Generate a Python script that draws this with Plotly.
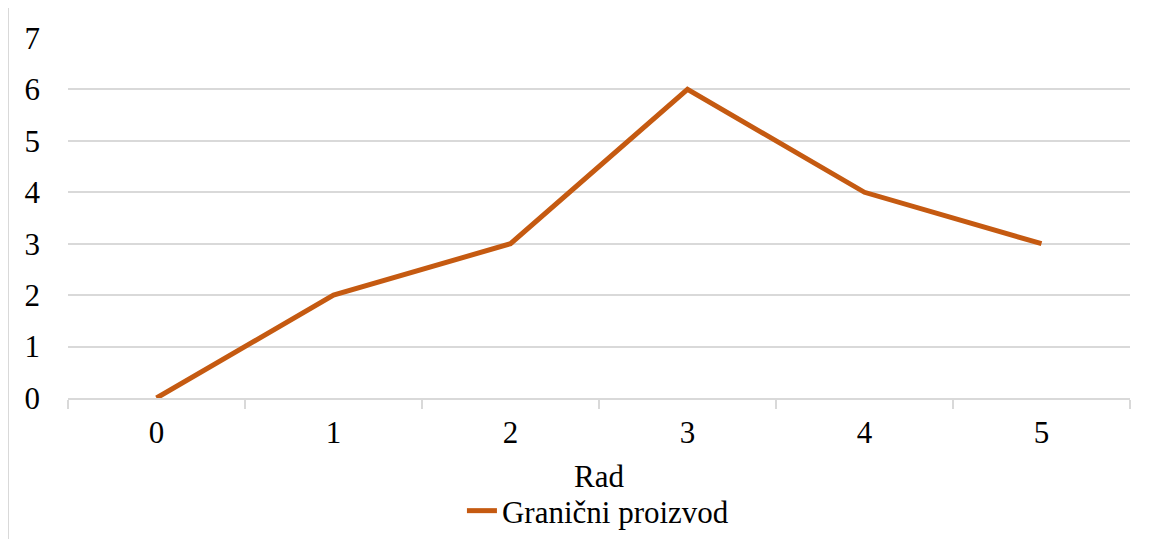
import plotly.graph_objects as go

categories = ["0", "1", "2", "3", "4", "5"]
values = [0, 2, 3, 6, 4, 3]
series_name = "Granični proizvod"
x_title = "Rad"

# page body has an 8px default margin, so the figure is offset by 8px
OFF = 8
W, H = 1152 - OFF, 539 - OFF
L, R, T, B = 68 - OFF, 22, 38 - OFF, 539 - 398
pw = W - L - R
ph = H - T - B

fig = go.Figure()
fig.add_trace(go.Scatter(
    x=categories, y=values, mode="lines", name=series_name,
    line=dict(color="#C55A11", width=5),
))

font = dict(family="Liberation Serif", size=31, color="#000000")

fig.update_layout(
    width=W, height=H,
    margin=dict(l=L, r=R, t=T, b=B, pad=0, autoexpand=False),
    paper_bgcolor="white", plot_bgcolor="white",
    font=font,
    showlegend=True,
    legend=dict(orientation="h", x=0.499, xanchor="center", y=(398 - 538) / ph, yanchor="bottom",
                font=font, bgcolor="rgba(0,0,0,0)", borderwidth=0),
    xaxis=dict(
        type="category", range=[-0.5, 5.5], showgrid=False, showline=True,
        linecolor="#d9d9d9", linewidth=2,
        ticks="outside", tickson="boundaries", ticklen=9, tickcolor="#d9d9d9", tickwidth=2,
        ticklabelstandoff=6, automargin=False,
        title=dict(text=x_title, font=font, standoff=16),
        zeroline=False,
    ),
    yaxis=dict(
        range=[0, 7], dtick=1, showgrid=True, gridcolor="#d9d9d9", gridwidth=2,
        showline=False, zeroline=False, ticks="", ticklabelstandoff=27, automargin=False,
    ),
)

# outer chart frame (light gray), visible at top and left
fy = (ph + B - 2) / ph  # ~2px below figure top
fx = (0 - L) / pw
fig.add_shape(type="line", xref="paper", yref="paper",
              x0=fx, x1=(W + 10 - L) / pw, y0=fy, y1=fy,
              line=dict(color="#d9d9d9", width=2))
fig.add_shape(type="line", xref="paper", yref="paper",
              x0=fx, x1=fx, y0=fy, y1=-B / ph - 0.1,
              line=dict(color="#d9d9d9", width=2))

fig.write_html("out.html")
